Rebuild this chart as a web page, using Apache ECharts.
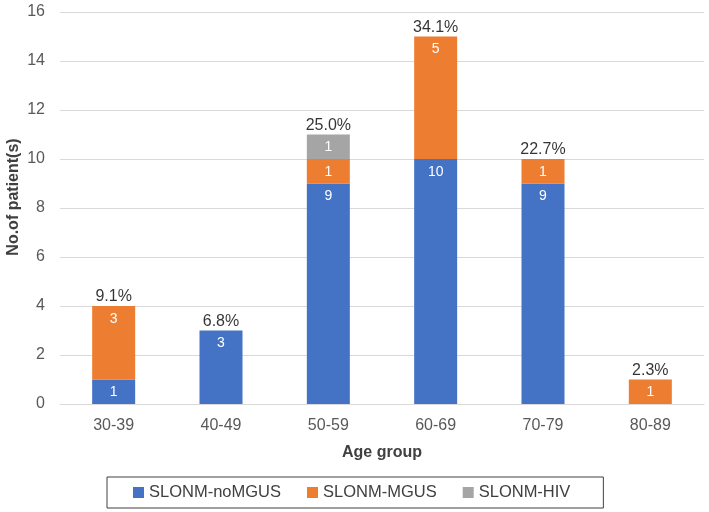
<!DOCTYPE html>
<html><head><meta charset="utf-8">
<script src="https://cdn.jsdelivr.net/npm/echarts@6/dist/echarts.min.js"></script>
<style>html,body{margin:0;padding:0;background:#fff}#c{width:709px;height:512px}</style>
</head><body><div id="c"></div>
<script>
var categories = ['30-39','40-49','50-59','60-69','70-79','80-89'];
var noMGUS = [1,3,9,10,9,0];
var MGUS = [3,0,1,5,1,1];
var HIV = [0,0,1,0,0,0];
var percentLabels = ['9.1%','6.8%','25.0%','34.1%','22.7%','2.3%'];
var yTicks = [0,2,4,6,8,10,12,14,16];

var totals = categories.map(function(_, i){ return noMGUS[i] + MGUS[i] + HIV[i]; });
var font = 'Liberation Sans, Arial, sans-serif';
function inLabel(){
  return {show:true, position:'insideTop', distance:6, color:'#fff', fontSize:14, fontFamily:font,
    formatter:function(p){ return p.value ? String(p.value) : ''; }};
}
var chart = echarts.init(document.getElementById('c'), null, {renderer:'canvas'});
chart.setOption({
  animation:false,
  textStyle:{fontFamily:font},
  grid:{left:60, right:5, top:12, bottom:108, outerBoundsMode:'none', containLabel:false},
  legend:{
    data:['SLONM-noMGUS','SLONM-MGUS','SLONM-HIV'],
    left:107, top:477, padding:[7,33,7,26], itemGap:26, itemWidth:11, itemHeight:11,
    borderColor:'#404040', borderWidth:1, icon:'rect',
    textStyle:{fontSize:16.5, color:'#404040', fontFamily:font}
  },
  xAxis:{
    type:'category', data:categories,
    name:'Age group', nameLocation:'middle', nameGap:41, nameMoveOverlap:false,
    nameTextStyle:{fontSize:16, fontWeight:'bold', color:'#404040'},
    axisLine:{lineStyle:{color:'#d9d9d9', width:1}}, axisTick:{show:false},
    axisLabel:{fontSize:16, color:'#595959', margin:14}
  },
  yAxis:{
    type:'value', min:yTicks[0], max:yTicks[yTicks.length-1], interval:2,
    name:'No.of patient(s)', nameLocation:'middle', nameGap:38, nameRotate:90, nameMoveOverlap:false,
    nameTextStyle:{fontSize:16, fontWeight:'bold', color:'#404040', padding:[0,0,0,22]},
    axisLine:{show:false}, axisTick:{show:false},
    axisLabel:{fontSize:16, color:'#595959', margin:15},
    splitLine:{lineStyle:{color:'#d9d9d9', width:1}}
  },
  series:[
    {name:'SLONM-noMGUS', type:'bar', stack:'a', data:noMGUS, barWidth:43,
      itemStyle:{color:'#4472C4'}, label:inLabel()},
    {name:'SLONM-MGUS', type:'bar', stack:'a', data:MGUS,
      itemStyle:{color:'#ED7D31'}, label:inLabel()},
    {name:'SLONM-HIV', type:'bar', stack:'a', data:HIV,
      itemStyle:{color:'#A5A5A5'}, label:inLabel()},
    {name:'total', type:'scatter', data:totals, symbolSize:0, silent:true,
      label:{show:true, position:'top', distance:1, color:'#000', fontSize:16, fontFamily:font,
        formatter:function(p){ return percentLabels[p.dataIndex]; }}}
  ]
});
</script></body></html>
